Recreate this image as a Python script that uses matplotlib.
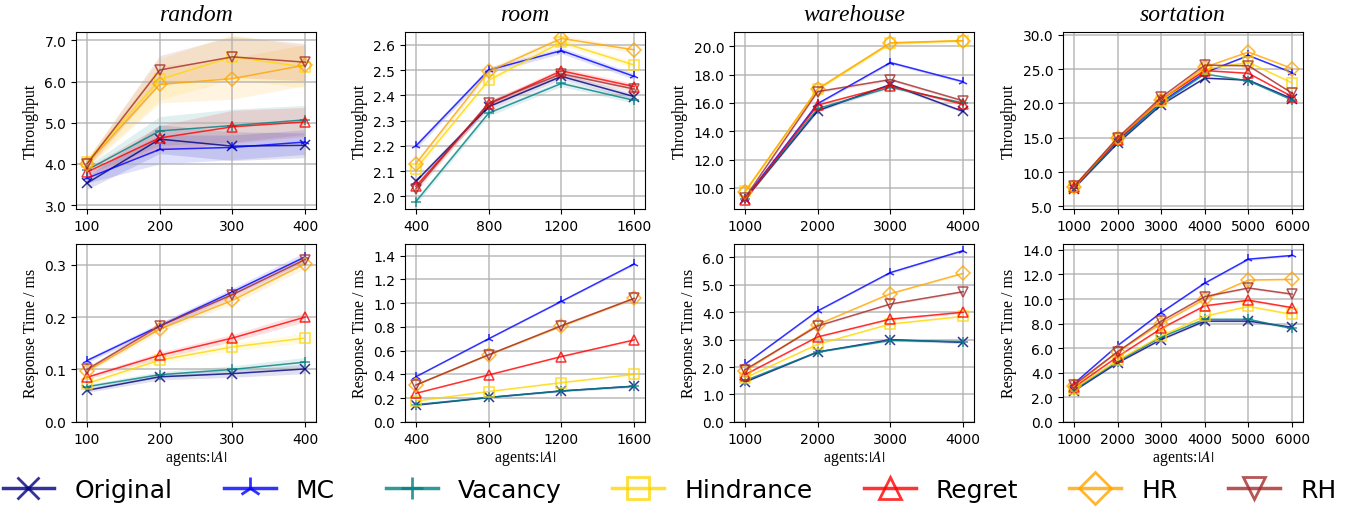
import matplotlib
matplotlib.use("Agg")
import matplotlib.pyplot as plt
from matplotlib.lines import Line2D
from matplotlib.ticker import FormatStrFormatter, MultipleLocator
import numpy as np

plt.rcParams["mathtext.fontset"] = "stix"

methods = ["Original", "MC", "Vacancy", "Hindrance", "Regret", "HR", "RH"]
colors = ["navy", "blue", "teal", "gold", "red", "orange", "brown"]
markers = ["x", "2", "+", "s", "^", "D", "v"]

maps = ["random", "room", "warehouse", "sortation"]
agents_random = [100, 200, 300, 400]
agents_room = [400, 800, 1200, 1600]
agents_warehouse = [1000, 2000, 3000, 4000]
agents_sortation = [1000, 2000, 3000, 4000, 5000, 6000]

# throughput, rows follow `methods`
tp_random = [
    [3.53, 4.60, 4.43, 4.45],
    [3.65, 4.35, 4.40, 4.53],
    [3.85, 4.80, 4.93, 5.07],
    [4.05, 6.05, 6.60, 6.35],
    [3.80, 4.63, 4.90, 5.02],
    [4.00, 5.93, 6.07, 6.40],
    [4.00, 6.28, 6.60, 6.47],
]
tp_random_std = [
    [0.15, 0.35, 0.35, 0.30],
    [0.12, 0.35, 0.30, 0.30],
    [0.10, 0.35, 0.40, 0.35],
    [0.10, 0.50, 0.55, 0.50],
    [0.10, 0.30, 0.40, 0.35],
    [0.10, 0.45, 0.50, 0.50],
    [0.10, 0.35, 0.50, 0.45],
]
tp_room = [
    [2.06, 2.355, 2.475, 2.395],
    [2.20, 2.500, 2.577, 2.475],
    [1.98, 2.330, 2.447, 2.380],
    [2.11, 2.460, 2.610, 2.520],
    [2.04, 2.365, 2.497, 2.435],
    [2.13, 2.495, 2.625, 2.580],
    [2.03, 2.370, 2.485, 2.425],
]
tp_room_std = [[0.012, 0.012, 0.012, 0.012]] * 7
tp_warehouse = [
    [9.20, 15.45, 17.30, 15.40],
    [9.25, 15.95, 18.85, 17.50],
    [9.20, 15.60, 17.10, 16.00],
    [9.75, 16.95, 20.20, 20.40],
    [9.15, 15.85, 17.20, 15.90],
    [9.70, 17.00, 20.25, 20.40],
    [9.30, 16.80, 17.65, 16.15],
]
tp_warehouse_std = [[0.08, 0.1, 0.1, 0.1]] * 7
tp_sortation = [
    [7.6, 14.2, 19.8, 23.7, 23.4, 20.7],
    [7.8, 14.6, 20.2, 24.5, 27.0, 24.5],
    [7.7, 14.4, 20.0, 24.3, 23.3, 20.5],
    [7.8, 14.8, 20.4, 25.0, 26.0, 23.0],
    [7.8, 14.7, 20.6, 24.8, 24.4, 21.0],
    [7.8, 14.9, 20.5, 25.3, 27.5, 25.1],
    [7.9, 15.0, 20.9, 25.6, 25.5, 21.5],
]
tp_sortation_std = [[0.1, 0.1, 0.1, 0.1, 0.1, 0.1]] * 7

# response time (ms)
rt_random = [
    [0.060, 0.086, 0.092, 0.101],
    [0.117, 0.183, 0.248, 0.315],
    [0.067, 0.090, 0.100, 0.114],
    [0.073, 0.118, 0.143, 0.160],
    [0.085, 0.127, 0.160, 0.200],
    [0.097, 0.177, 0.232, 0.302],
    [0.100, 0.183, 0.243, 0.310],
]
rt_random_std = [[0.004, 0.006, 0.007, 0.009]] * 7
rt_room = [
    [0.140, 0.205, 0.260, 0.300],
    [0.380, 0.700, 1.015, 1.330],
    [0.145, 0.205, 0.260, 0.300],
    [0.175, 0.255, 0.330, 0.400],
    [0.240, 0.395, 0.550, 0.690],
    [0.310, 0.565, 0.805, 1.040],
    [0.310, 0.565, 0.810, 1.040],
]
rt_room_std = [[0.004, 0.006, 0.008, 0.01]] * 7
rt_warehouse = [
    [1.45, 2.55, 3.00, 2.90],
    [2.10, 4.05, 5.45, 6.25],
    [1.50, 2.55, 2.97, 2.93],
    [1.60, 2.83, 3.57, 3.85],
    [1.72, 3.10, 3.75, 4.00],
    [1.85, 3.55, 4.68, 5.42],
    [1.90, 3.50, 4.30, 4.75],
]
rt_warehouse_std = [[0.02, 0.03, 0.04, 0.05]] * 7
rt_sortation = [
    [2.5, 4.8, 6.7, 8.20, 8.20, 7.70],
    [3.1, 6.2, 8.9, 11.3, 13.25, 13.55],
    [2.6, 4.9, 6.9, 8.35, 8.35, 7.60],
    [2.7, 5.0, 7.0, 8.60, 9.40, 8.75],
    [2.8, 5.3, 7.6, 9.45, 9.90, 9.30],
    [2.9, 5.7, 8.0, 10.0, 11.55, 11.60],
    [3.0, 5.7, 8.2, 10.2, 10.90, 10.40],
]
rt_sortation_std = [[0.03, 0.05, 0.07, 0.08, 0.1, 0.1]] * 7

agents = [agents_random, agents_room, agents_warehouse, agents_sortation]
tp = [(tp_random, tp_random_std), (tp_room, tp_room_std),
      (tp_warehouse, tp_warehouse_std), (tp_sortation, tp_sortation_std)]
rt = [(rt_random, rt_random_std), (rt_room, rt_room_std),
      (rt_warehouse, rt_warehouse_std), (rt_sortation, rt_sortation_std)]

tp_ylim = [(2.9, 7.2), (1.95, 2.65), (8.5, 21.0), (4.6, 30.4)]
tp_step = [1.0, 0.1, 2.0, 5.0]
rt_ylim = [(0, 0.34), (0, 1.5), (0, 6.5), (0, 14.5)]
rt_step = [0.1, 0.2, 1.0, 2.0]

serif = "Liberation Serif"
fig = plt.figure(figsize=(13.51, 5.10), dpi=100)
lefts = [0.0563, 0.2998, 0.5433, 0.7868]
width = 0.1777


def draw(ax, x, means, stds):
    for i in range(len(methods)):
        m = np.array(means[i])
        s = np.array(stds[i])
        ax.fill_between(x, m - s, m + s, color=colors[i], alpha=0.12, lw=0)
        ax.plot(x, m, color=colors[i], marker=markers[i], lw=1.1, alpha=0.8,
                markersize=7, fillstyle="none", markeredgewidth=1.1)
    ax.set_xticks(x)
    ax.grid(True, color="#b0b0b0", lw=1.2, alpha=0.8)
    ax.tick_params(labelsize=10)
    ax.yaxis.set_major_formatter(FormatStrFormatter("%.1f"))


for c in range(4):
    ax = fig.add_axes([lefts[c], 0.588, width, 0.347])
    draw(ax, agents[c], *tp[c])
    ax.set_ylim(*tp_ylim[c])
    ax.yaxis.set_major_locator(MultipleLocator(tp_step[c]))
    ax.set_title(maps[c], fontsize=17, fontstyle="italic", family=serif, pad=9)
    ax.set_ylabel("Throughput", fontsize=11.5, family=serif)

    ax = fig.add_axes([lefts[c], 0.171, width, 0.349])
    draw(ax, agents[c], *rt[c])
    ax.set_ylim(*rt_ylim[c])
    ax.yaxis.set_major_locator(MultipleLocator(rt_step[c]))
    ax.set_ylabel("Response Time / ms", fontsize=11.5, family=serif)
    ax.set_xlabel("agents:$|A|$", fontsize=11.5, family=serif, labelpad=2)

handles = [Line2D([], [], color=colors[i], marker=markers[i], lw=2.5, alpha=0.8,
                  markersize=16, fillstyle="none", markeredgewidth=2)
           for i in range(len(methods))]
fig.legend(handles, methods, loc="center left", bbox_to_anchor=(0.0, 0.037),
           ncol=7, frameon=False, fontsize=18, handlelength=2.08,
           handletextpad=0.8, columnspacing=2.04, borderpad=0.1,
           borderaxespad=0)

fig.savefig("out.png", dpi=100)
